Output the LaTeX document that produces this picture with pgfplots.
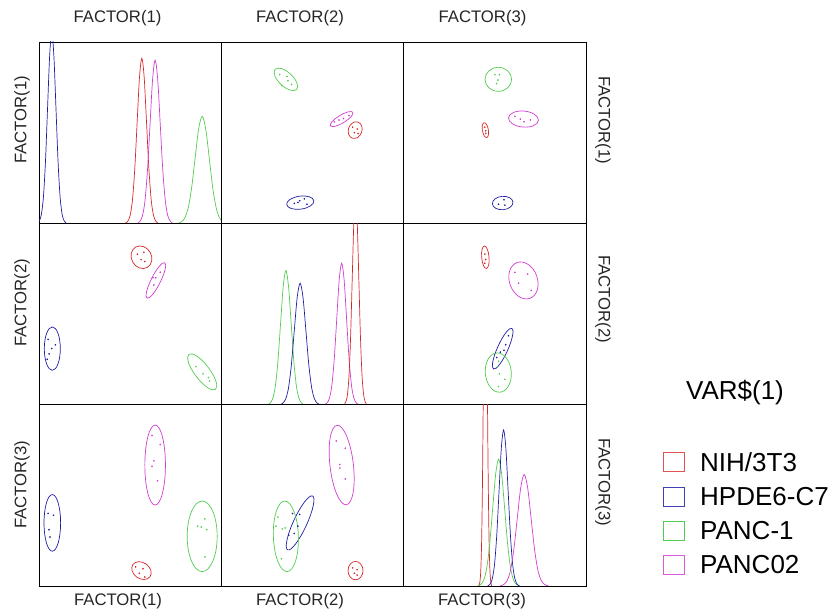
\documentclass[border=0pt]{standalone}
\usepackage{pgfplots}
\pgfplotsset{compat=1.18}
\usepackage{fontspec}
\setmainfont{Liberation Sans}
\definecolor{cRed}{RGB}{215,40,40}
\definecolor{cBlue}{RGB}{30,30,165}
\definecolor{cGreen}{RGB}{80,205,80}
\definecolor{cMag}{RGB}{210,60,210}
\pgfplotsset{
  panel/.style={width=182.33pt,height=181.33pt,scale only axis,
    xmin=0,xmax=100,ymin=0,ymax=100,ticks=none,anchor=south west,
    axis line style={black,line width=0.8pt}},
  dens/.style={no marks,smooth,line width=0.7pt},
  pts/.style={only marks,mark=*,mark size=0.6pt},
}
\newcommand{\E}[6]{\draw[#1,line width=0.7pt,rotate around={#4:(axis cs:#2,#3)}] (axis cs:#2,#3) ellipse [x radius=#5pt, y radius=#6pt];}
\newcommand{\lab}{\fontsize{16.7}{20}\selectfont}
\begin{document}
\begin{tikzpicture}[x=1pt,y=1pt]
\useasboundingbox (0,0) rectangle (838,613);
% ---------------- Row 1 ----------------
\begin{axis}[panel,at={(39pt,389.67pt)}]
\addplot[dens,cBlue] coordinates {(-1.05,0) (0.1,1.2) (1.25,4.6) (2.4,14.2) (3.55,34.1) (4.7,63.7) (5.85,92.6) (7.0,105) (8.15,92.6) (9.3,63.7) (10.45,34.1) (11.6,14.2) (12.75,4.6) (13.9,1.2) (15.05,0)};
\addplot[dens,cRed] coordinates {(47.3,0) (48.6,1.0) (49.9,4.0) (51.2,12.3) (52.5,29.6) (53.8,55.2) (55.1,80.3) (56.4,91) (57.7,80.3) (59.0,55.2) (60.3,29.6) (61.6,12.3) (62.9,4.0) (64.2,1.0) (65.5,0)};
\addplot[dens,cMag] coordinates {(53.9,0) (55.3,1.0) (56.7,4.0) (58.1,12.2) (59.5,29.3) (60.9,54.6) (62.3,79.4) (63.7,90) (65.1,79.4) (66.5,54.6) (67.9,29.3) (69.3,12.2) (70.7,4.0) (72.1,1.0) (73.5,0)};
\addplot[dens,cGreen] coordinates {(75.85,0) (77.8,0.6) (79.75,2.6) (81.7,8.0) (83.65,19.2) (85.6,35.8) (87.55,52.0) (89.5,59) (91.45,52.0) (93.4,35.8) (95.35,19.2) (97.3,8.0) (99.25,2.6) (101.2,0.6) (103.15,0)};
\end{axis}
\begin{axis}[panel,at={(221.33pt,389.67pt)}]
\addplot[pts,cGreen] coordinates {(32,82) (36,81) (36.6,78.6) (38.5,76.6) (33.2,76)};
\addplot[pts,cMag] coordinates {(62,56) (64.5,57) (67,57.8) (70,59.5)};
\addplot[pts,cRed] coordinates {(72,53) (74.5,52) (73,50) (75,49.5)};
\addplot[pts,cBlue] coordinates {(40,11) (42,11.5) (45.5,13.5) (47,10.5) (43,12.5)};
\E{cGreen}{35.4}{79.4}{-43}{14.7}{7}
\E{cMag}{66}{57.5}{31}{13}{4}
\E{cRed}{73.4}{51.4}{70}{8.5}{6.8}
\E{cBlue}{43.3}{11.4}{8}{13.7}{6.5}
\end{axis}
\begin{axis}[panel,at={(403.67pt,389.67pt)}]
\addplot[pts,cGreen] coordinates {(50,82) (52.5,82) (51.7,79) (51,77)};
\addplot[pts,cMag] coordinates {(61,59) (64,57.5) (69.5,57) (66,56)};
\addplot[pts,cRed] coordinates {(44.5,53) (45,51) (45,49.5)};
\addplot[pts,cBlue] coordinates {(52,10.5) (55,13) (55.5,10)};
\E{cGreen}{51.9}{79.4}{0}{13.3}{12}
\E{cMag}{65.7}{57.5}{-5}{15}{8}
\E{cRed}{44.8}{51.4}{100}{7.5}{3}
\E{cBlue}{54.3}{11.2}{5}{10.3}{6.7}
\end{axis}
% ---------------- Row 2 ----------------
\begin{axis}[panel,at={(39pt,208.33pt)}]
\addplot[pts,cRed] coordinates {(54,83) (57.5,84) (56,80) (58,79)};
\addplot[pts,cMag] coordinates {(66.5,73) (62.5,70) (64,70) (63,66)};
\addplot[pts,cBlue] coordinates {(5,36) (9,33) (5.5,28) (4.5,25) (7,31)};
\addplot[pts,cGreen] coordinates {(86,21) (90,17) (93,15) (93.5,13)};
\E{cRed}{56.2}{81.3}{-60}{11.7}{10}
\E{cMag}{64.1}{68.5}{63.4}{19.8}{4.7}
\E{cBlue}{7.3}{30.9}{90}{21.7}{8}
\E{cGreen}{89.5}{18.1}{-52.7}{22}{7.5}
\end{axis}
\begin{axis}[panel,at={(221.33pt,208.33pt)}]
\addplot[dens,cGreen] coordinates {(25.25,0) (26.7,0.8) (28.15,3.3) (29.6,10.0) (31.05,24.1) (32.5,44.9) (33.95,65.3) (35.4,74) (36.85,65.3) (38.3,44.9) (39.75,24.1) (41.2,10.0) (42.65,3.3) (44.1,0.8) (45.55,0)};
\addplot[dens,cBlue] coordinates {(32.0,0) (33.6,0.7) (35.2,2.9) (36.8,9.0) (38.4,21.8) (40.0,40.7) (41.6,59.1) (43.2,67) (44.8,59.1) (46.4,40.7) (48.0,21.8) (49.6,9.0) (51.2,2.9) (52.8,0.7) (54.4,0)};
\addplot[dens,cMag] coordinates {(56.55,0) (57.9,0.9) (59.25,3.4) (60.6,10.5) (61.95,25.4) (63.3,47.3) (64.65,68.8) (66.0,78) (67.35,68.8) (68.7,47.3) (70.05,25.4) (71.4,10.5) (72.75,3.4) (74.1,0.9) (75.45,0)};
\addplot[dens,cRed] coordinates {(67.3,0) (68.2,1.3) (69.1,5.1) (70.0,15.5) (70.9,37.4) (71.8,69.8) (72.7,101.4) (73.6,115) (74.5,101.4) (75.4,69.8) (76.3,37.4) (77.2,15.5) (78.1,5.1) (79.0,1.3) (79.9,0)};
\end{axis}
\begin{axis}[panel,at={(403.67pt,208.33pt)}]
\addplot[pts,cRed] coordinates {(44.5,83) (45,80) (44.5,78)};
\addplot[pts,cMag] coordinates {(61,73) (68,72) (63,67) (70,63)};
\addplot[pts,cBlue] coordinates {(57.5,38) (56,33) (55,30) (53,29) (51,26)};
\addplot[pts,cGreen] coordinates {(52,24) (51.5,21) (52.5,17) (55.5,14) (52,10)};
\E{cRed}{44.8}{81.3}{95}{11.3}{3.7}
\E{cMag}{65.7}{68.5}{-70}{19}{14}
\E{cBlue}{54.3}{30.9}{65.7}{22.3}{5.2}
\E{cGreen}{51.9}{17.7}{95}{19.7}{13}
\end{axis}
% ---------------- Row 3 ----------------
\begin{axis}[panel,at={(39pt,27pt)}]
\addplot[pts,cMag] coordinates {(62,83) (66.5,78) (63,69) (62,66) (65,58)};
\addplot[pts,cBlue] coordinates {(5,40) (8,39) (5.5,31) (6,27)};
\addplot[pts,cGreen] coordinates {(91,37) (87,33) (89,32.5) (92,31) (91,16)};
\addplot[pts,cRed] coordinates {(53,10.5) (57,9.5) (55,7) (58,5)};
\E{cMag}{63.7}{66.7}{90}{40}{10.3}
\E{cBlue}{7.3}{34.8}{90}{28.3}{8.3}
\E{cGreen}{89.5}{27.4}{90}{35.3}{15}
\E{cRed}{56.2}{8.5}{-35}{10.5}{8}
\end{axis}
\begin{axis}[panel,at={(221.33pt,27pt)}]
\addplot[pts,cMag] coordinates {(63,80) (68,76) (65,67) (65,65) (68,59)};
\addplot[pts,cBlue] coordinates {(39,40) (43,39.5) (42,33) (40,29) (37,28)};
\addplot[pts,cGreen] coordinates {(31,38) (30,33) (33.5,31.5) (35,32) (33,15)};
\addplot[pts,cRed] coordinates {(72,10) (74.5,9) (73,7) (74.5,6)};
\E{cMag}{66}{66.7}{96.7}{40}{11.7}
\E{cBlue}{43.2}{34.8}{65.2}{29.7}{6.7}
\E{cGreen}{35.4}{27.4}{92}{35.3}{12.5}
\E{cRed}{73.6}{8.5}{90}{9.2}{7.5}
\end{axis}
\begin{axis}[panel,at={(403.67pt,27pt)}]
\addplot[dens,cRed] coordinates {(41.3,0) (41.8,2.2) (42.3,8.8) (42.8,27) (43.3,65) (43.8,121.4) (44.3,176.4) (44.8,200) (45.3,176.4) (45.8,121.4) (46.3,65) (46.8,27) (47.3,8.8) (47.8,2.2) (48.3,0)};
\addplot[dens,cGreen] coordinates {(40.55,0) (42.2,0.8) (43.85,3.1) (45.5,9.5) (47.15,22.8) (48.8,42.5) (50.45,61.7) (52.1,70) (53.75,61.7) (55.4,42.5) (57.05,22.8) (58.7,9.5) (60.35,3.1) (62.0,0.8) (63.65,0)};
\addplot[dens,cBlue] coordinates {(46.05,0) (47.3,0.9) (48.55,3.8) (49.8,11.6) (51.05,28.0) (52.3,52.2) (53.55,75.9) (54.8,86) (56.05,75.9) (57.3,52.2) (58.55,28.0) (59.8,11.6) (61.05,3.8) (62.3,0.9) (63.55,0)};
\addplot[dens,cMag] coordinates {(52.8,0) (54.7,0.7) (56.6,2.7) (58.5,8.3) (60.4,20.0) (62.3,37.3) (64.2,54.2) (66.1,61.5) (68.0,54.2) (69.9,37.3) (71.8,20.0) (73.7,8.3) (75.6,2.7) (77.5,0.7) (79.4,0)};
\end{axis}
% ---------------- Labels ----------------
\begin{scope}[every node/.style={font=\lab,text=black!85,inner sep=0pt}]
\node at (117.5,595) {FACTOR(1)};
\node at (300,595) {FACTOR(2)};
\node at (482.5,595) {FACTOR(3)};
\node at (118,12) {FACTOR(1)};
\node at (300,12) {FACTOR(2)};
\node at (482,12) {FACTOR(3)};
\node[rotate=90] at (22,493) {FACTOR(1)};
\node[rotate=90] at (22,310) {FACTOR(2)};
\node[rotate=90] at (22,128) {FACTOR(3)};
\node[rotate=-90] at (603,493) {FACTOR(1)};
\node[rotate=-90] at (603,314) {FACTOR(2)};
\node[rotate=-90] at (603,131) {FACTOR(3)};
\end{scope}
% ---------------- Legend ----------------
\begin{scope}[every node/.style={font=\fontsize{26}{30}\selectfont,text=black,inner sep=0pt}]
\node at (735,220.5) {VAR\$(1)};
\draw[cRed!80,line width=1pt] (663.5,141.5) rectangle (684,160.5);
\node[anchor=west] at (700,151) {NIH/3T3};
\draw[cBlue!85,line width=1pt] (663.5,106.5) rectangle (684,125.5);
\node[anchor=west] at (700,116) {HPDE6-C7};
\draw[cGreen,line width=1pt] (663.5,72.5) rectangle (684,91.5);
\node[anchor=west] at (700,82) {PANC-1};
\draw[cMag!85,line width=1pt] (663.5,38.5) rectangle (684,57.5);
\node[anchor=west] at (700,48) {PANC02};
\end{scope}
\end{tikzpicture}
\end{document}
